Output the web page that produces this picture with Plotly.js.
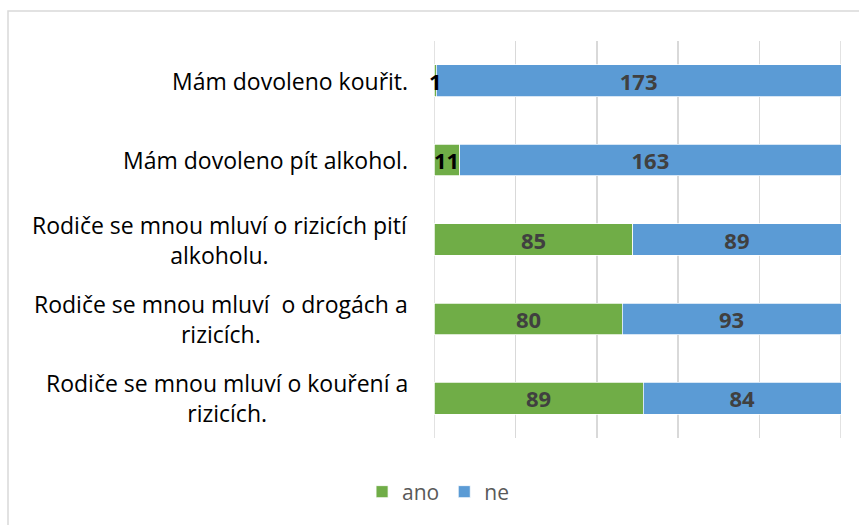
<!DOCTYPE html>
<html>
<head>
<meta charset="utf-8">
<script src="https://cdn.plot.ly/plotly-3.0.1.min.js"></script>
<style>
html,body{margin:0;padding:0;background:#fff;}
#chart{width:859px;height:525px;}
</style>
</head>
<body>
<div id="chart"></div>
<script>
// categories from bottom to top
var categories = [
  "Rodiče se mnou mluví o kouření a rizicích.",
  "Rodiče se mnou mluví  o drogách a rizicích.",
  "Rodiče se mnou mluví o rizicích pití alkoholu.",
  "Mám dovoleno pít alkohol.",
  "Mám dovoleno kouřit."
];
var categoryLabels = [
  "Rodiče se mnou mluví o kouření a<br>rizicích.",
  "Rodiče se mnou mluví  o drogách a<br>rizicích.",
  "Rodiče se mnou mluví o rizicích pití<br>alkoholu.",
  "Mám dovoleno pít alkohol.",
  "Mám dovoleno kouřit."
];
var ano = [89, 80, 85, 11, 1];
var ne = [84, 93, 89, 163, 173];
var seriesNames = ["ano", "ne"];
var anoLabelColors = ['#404040','#404040','#404040','#000000','#000000'];

var FONT = "'Open Sans', 'Noto Sans', sans-serif";

// centre of each "ano" segment, in percent of the row total
var anoMid = ano.map(function(v, i){ return v / (v + ne[i]) * 100 / 2; });

var traces = [
  {
    type: 'bar', orientation: 'h', name: seriesNames[0],
    y: categories, x: ano,
    marker: {color: '#70AD47', line: {color: '#ffffff', width: 0.75}},
    hoverinfo: 'skip'
  },
  {
    type: 'bar', orientation: 'h', name: seriesNames[1],
    y: categories, x: ne, text: ne.map(String), texttemplate: '%{text}',
    textposition: 'inside', insidetextanchor: 'middle', constraintext: 'none', textangle: 0,
    textfont: {family: FONT, size: 22, weight: 'bold', color: '#404040'},
    marker: {color: '#5B9BD5', line: {color: '#ffffff', width: 0.75}},
    hoverinfo: 'skip'
  }
];

var annotations = categories.map(function(c, i){
  return {
    xref: 'paper', yref: 'y', x: 0, y: c, xanchor: 'right', yanchor: 'middle',
    xshift: -24, text: categoryLabels[i], align: 'center', showarrow: false,
    font: {family: FONT, size: 23, color: '#000000'}
  };
}).concat(categories.map(function(c, i){
  return {
    xref: 'x', yref: 'y', x: anoMid[i], y: c, xanchor: 'center', yanchor: 'middle',
    text: String(ano[i]), showarrow: false,
    font: {family: FONT, size: 22, weight: 'bold', color: anoLabelColors[i]}
  };
}));

var layout = {
  width: 859, height: 525,
  margin: {l: 434, r: 18, t: 41, b: 87, pad: 0},
  paper_bgcolor: '#ffffff', plot_bgcolor: '#ffffff',
  barmode: 'stack', barnorm: 'percent', bargap: 0.6,
  showlegend: true,
  legend: {orientation: 'h', x: 0.01, xanchor: 'center', y: -0.136, yanchor: 'middle',
           font: {family: FONT, size: 21, color: '#595959'}, traceorder: 'normal'},
  xaxis: {range: [0, 100], dtick: 20, tick0: 0, showticklabels: false, ticks: '',
          showgrid: true, gridcolor: '#d9d9d9', gridwidth: 1.5, zeroline: false, showline: false, fixedrange: true},
  yaxis: {type: 'category', categoryorder: 'array', categoryarray: categories,
          showticklabels: false, ticks: '', showgrid: false, zeroline: false, showline: false, fixedrange: true},
  annotations: annotations,
  shapes: [
    {
      type: 'rect', xref: 'paper', yref: 'paper', layer: 'below',
      x0: (8 - 434) / 407, x1: (875 - 434) / 407,
      y0: (438 - 540) / 397, y1: (438 - 11) / 397,
      line: {color: '#d9d9d9', width: 1.5}, fillcolor: 'rgba(0,0,0,0)'
    },
    {type: 'line', xref: 'x', yref: 'paper', layer: 'below', x0: 0, x1: 0, y0: 0, y1: 1,
     line: {color: '#d9d9d9', width: 1.5}},
    {type: 'line', xref: 'x', yref: 'paper', layer: 'below', x0: 100, x1: 100, y0: 0, y1: 1,
     line: {color: '#d9d9d9', width: 1.5}}
  ],
  font: {family: FONT}
};

Plotly.newPlot('chart', traces, layout, {displayModeBar: false, staticPlot: true});
</script>
</body>
</html>
